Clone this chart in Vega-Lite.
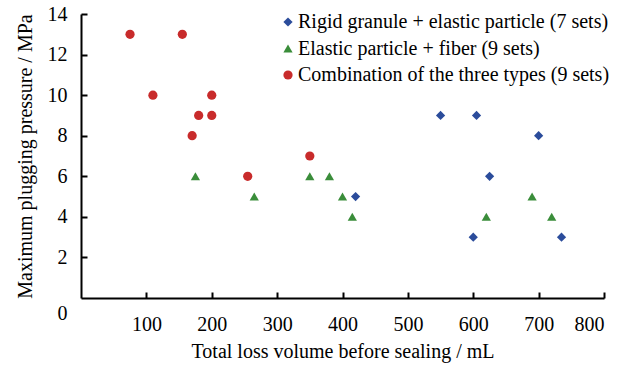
{
  "$schema": "https://vega.github.io/schema/vega-lite/v6.json",
  "width": 523,
  "height": 284,
  "autosize": {"type": "none"},
  "padding": {"left": 81, "top": 14, "right": 27, "bottom": 69},
  "background": "white",
  "config": {
    "view": {"stroke": null},
    "font": "Liberation Serif",
    "axis": {
      "domainColor": "#000000",
      "domainWidth": 2,
      "labelFont": "Liberation Serif",
      "labelFontSize": 20,
      "labelColor": "#000000",
      "titleFont": "Liberation Serif",
      "titleFontSize": 20,
      "titleFontWeight": "normal",
      "titleColor": "#000000"
    }
  },
  "data": {
    "values": [
      {"series": "Rigid granule + elastic particle (7 sets)", "volume": 550, "pressure": 9},
      {"series": "Rigid granule + elastic particle (7 sets)", "volume": 605, "pressure": 9},
      {"series": "Rigid granule + elastic particle (7 sets)", "volume": 700, "pressure": 8},
      {"series": "Rigid granule + elastic particle (7 sets)", "volume": 625, "pressure": 6},
      {"series": "Rigid granule + elastic particle (7 sets)", "volume": 420, "pressure": 5},
      {"series": "Rigid granule + elastic particle (7 sets)", "volume": 600, "pressure": 3},
      {"series": "Rigid granule + elastic particle (7 sets)", "volume": 735, "pressure": 3},
      {"series": "Elastic particle + fiber (9 sets)", "volume": 175, "pressure": 6},
      {"series": "Elastic particle + fiber (9 sets)", "volume": 265, "pressure": 5},
      {"series": "Elastic particle + fiber (9 sets)", "volume": 350, "pressure": 6},
      {"series": "Elastic particle + fiber (9 sets)", "volume": 380, "pressure": 6},
      {"series": "Elastic particle + fiber (9 sets)", "volume": 400, "pressure": 5},
      {"series": "Elastic particle + fiber (9 sets)", "volume": 415, "pressure": 4},
      {"series": "Elastic particle + fiber (9 sets)", "volume": 620, "pressure": 4},
      {"series": "Elastic particle + fiber (9 sets)", "volume": 690, "pressure": 5},
      {"series": "Elastic particle + fiber (9 sets)", "volume": 720, "pressure": 4},
      {"series": "Combination of the three types (9 sets)", "volume": 75, "pressure": 13},
      {"series": "Combination of the three types (9 sets)", "volume": 155, "pressure": 13},
      {"series": "Combination of the three types (9 sets)", "volume": 110, "pressure": 10},
      {"series": "Combination of the three types (9 sets)", "volume": 200, "pressure": 10},
      {"series": "Combination of the three types (9 sets)", "volume": 180, "pressure": 9},
      {"series": "Combination of the three types (9 sets)", "volume": 200, "pressure": 9},
      {"series": "Combination of the three types (9 sets)", "volume": 170, "pressure": 8},
      {"series": "Combination of the three types (9 sets)", "volume": 255, "pressure": 6},
      {"series": "Combination of the three types (9 sets)", "volume": 350, "pressure": 7}
    ]
  },
  "mark": {"type": "point", "filled": true, "opacity": 1, "size": 85},
  "encoding": {
    "x": {
      "field": "volume",
      "type": "quantitative",
      "scale": {"domain": [0, 800], "nice": false},
      "axis": {
        "title": "Total loss volume before sealing / mL",
        "values": [100, 200, 300, 400, 500, 600, 700, 800],
        "ticks": false,
        "grid": true,
        "gridColor": "#000000",
        "gridWidth": 2,
        "gridDash": [6, 2000],
        "gridDashOffset": 1728,
        "gridOpacity": 1,
        "labelPadding": 16,
        "titlePadding": 7
      }
    },
    "y": {
      "field": "pressure",
      "type": "quantitative",
      "scale": {"domain": [0, 14], "nice": false},
      "axis": {
        "title": "Maximum plugging pressure / MPa",
        "values": [0, 2, 4, 6, 8, 10, 12, 14],
        "ticks": false,
        "grid": true,
        "gridColor": "#000000",
        "gridWidth": 2,
        "gridDash": [6, 2000],
        "gridDashOffset": 0,
        "gridOpacity": {"condition": {"test": "datum.value == 0", "value": 0}, "value": 1},
        "labelPadding": 14,
        "labelOffset": {"condition": {"test": "datum.value == 0", "value": 15}, "value": 0},
        "titlePadding": 12
      }
    },
    "color": {
      "field": "series",
      "type": "nominal",
      "scale": {
        "domain": ["Rigid granule + elastic particle (7 sets)", "Elastic particle + fiber (9 sets)", "Combination of the three types (9 sets)"],
        "range": ["#2B4C9B", "#3A8D3A", "#C82B2B"]
      },
      "legend": {
        "title": null,
        "orient": "none",
        "legendX": 197,
        "legendY": -2,
        "padding": 0,
        "labelFont": "Liberation Serif",
        "labelFontSize": 20,
        "labelLimit": 0,
        "labelColor": "#000000",
        "symbolSize": 85,
        "rowPadding": 6.5,
        "labelOffset": 0
      }
    },
    "shape": {
      "field": "series",
      "type": "nominal",
      "scale": {
        "domain": ["Rigid granule + elastic particle (7 sets)", "Elastic particle + fiber (9 sets)", "Combination of the three types (9 sets)"],
        "range": ["diamond", "triangle-up", "circle"]
      }
    }
  }
}
